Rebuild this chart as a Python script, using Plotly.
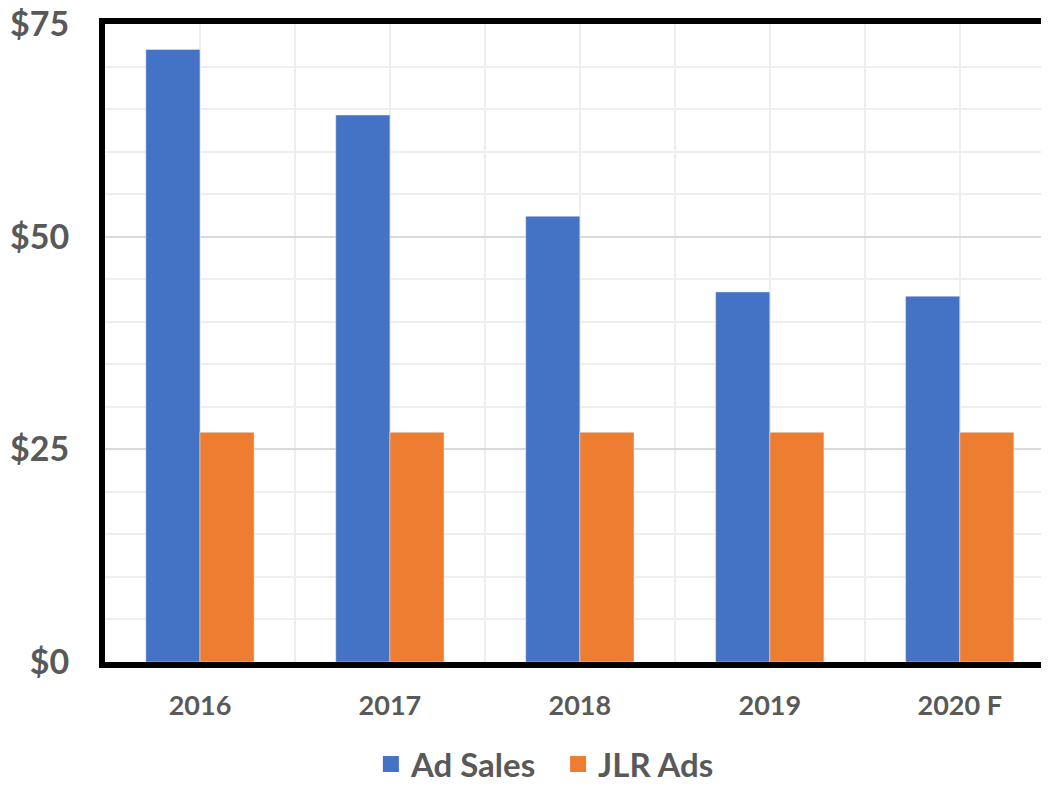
import plotly.graph_objects as go

# chart data
years = ["2016", "2017", "2018", "2019", "2020 F"]
ad_sales = [72.0, 64.3, 52.4, 43.5, 43.0]
jlr_ads = [27.0, 27.0, 27.0, 27.0, 27.0]

blue = "#4472C4"
orange = "#ED7D31"
grey = "#595959"

pos = list(range(len(years)))
mids = [p + 0.5 for p in pos]

fig = go.Figure()
fig.add_trace(go.Bar(x=pos, y=ad_sales, name="Ad Sales", marker_color=blue, showlegend=False))
fig.add_trace(go.Bar(x=pos, y=jlr_ads, name="JLR Ads", marker_color=orange, showlegend=False))
# legend entries with larger square swatches
for name, col in [("Ad Sales", blue), ("JLR Ads", orange)]:
    fig.add_trace(go.Scatter(x=[None], y=[None], mode="markers",
                             name="<b>%s</b>&nbsp;&nbsp;" % name,
                             marker=dict(symbol="square", size=21, color=col)))

# page body has an 8px margin, so size the figure to fit the window
fig.update_layout(
    width=1041, height=778,
    margin=dict(l=97, r=0, t=16, b=124, autoexpand=False),
    paper_bgcolor="white", plot_bgcolor="white",
    barmode="group", bargap=0.43, bargroupgap=0,
    font=dict(family="Lato, Open Sans, sans-serif", color=grey),
    legend=dict(orientation="h", x=0.475, xanchor="center", y=-0.16, yanchor="middle",
                font=dict(size=33, color=grey, family="Lato"),
                itemwidth=30, traceorder="normal"),
)

fig.update_xaxes(
    range=[-0.5, 4.47],
    tickvals=pos, ticktext=["<b>%s</b>" % y for y in years],
    tickfont=dict(size=27, color=grey),
    showgrid=True, gridcolor="#eeeeee", gridwidth=2,
    minor=dict(tickvals=mids, showgrid=True, gridcolor="#eeeeee", gridwidth=2),
    showline=True, linecolor="black", linewidth=6, mirror=True,
    ticks="outside", ticklen=15, tickcolor="rgba(0,0,0,0)",
    zeroline=False,
)
fig.update_yaxes(
    range=[0, 75],
    tickvals=[0, 25, 50, 75], ticktext=["<b>$%d</b>" % v for v in [0, 25, 50, 75]],
    tickfont=dict(size=34, color=grey, family="Lato"),
    ticklabeloverflow="allow",
    showgrid=True, gridcolor="#d9d9d9", gridwidth=1.5,
    minor=dict(dtick=5, showgrid=True, gridcolor="#eeeeee", gridwidth=2),
    showline=True, linecolor="black", linewidth=6,
    ticks="outside", ticklen=23, tickcolor="rgba(0,0,0,0)",
    zeroline=False,
)

fig.write_html("out.html")
